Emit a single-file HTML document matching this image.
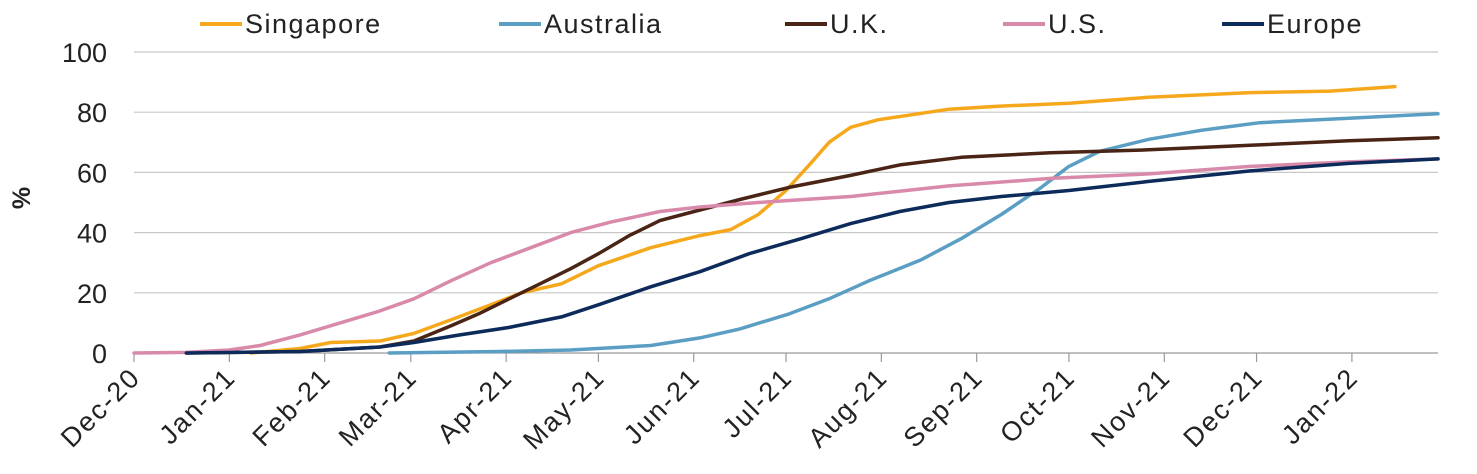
<!DOCTYPE html>
<html><head><meta charset="utf-8"><style>
body{margin:0;background:#fff;}
svg{display:block;font-family:"Liberation Sans",sans-serif;}
</style></head><body>
<svg id="chart" width="1477" height="474"></svg>
<script>
const tickLabels=["Dec-20","Jan-21","Feb-21","Mar-21","Apr-21","May-21","Jun-21","Jul-21","Aug-21","Sep-21","Oct-21","Nov-21","Dec-21","Jan-22"];
const tickDays=[0,31,62,90,121,151,182,212,243,274,304,335,365,396];
const yTicks=[0,20,40,60,80,100];
const seriesNames=["Singapore","Australia","U.K.","U.S.","Europe"];
const seriesColors=["#F5A81C","#5B9EC4","#4A2414","#D98AAB","#0D2B5A"];
const sgDays=[38,54,64,80,91,103,116,126,139,151,168,184,194,203,212,220,226,233,242,265,281,304,330,363,389,410];
const sgVals=[0,1.5,3.5,4,6.5,11,16,20,23,29,35,39,41,46,54,63,70,75,77.5,81,82,83,85,86.5,87,88.5];
const auDays=[83,119,142,168,184,197,213,226,239,256,269,282,295,304,314,330,347,366,395,424];
const auVals=[0,0.5,1,2.5,5,8,13,18,24,31,38,46,55,62,67,71,74,76.5,78,79.5];
const ukDays=[17,54,80,91,103,112,122,132,142,151,161,171,184,197,213,233,249,269,298,330,363,395,424];
const ukVals=[0,0.5,2,4,9,13,18,23,28,33,39,44,47.5,51,55,59,62.5,65,66.5,67.5,69,70.5,71.5];
const usDays=[0,17,31,41,54,67,80,91,103,116,129,142,155,171,184,203,233,265,298,330,363,395,424];
const usVals=[0,0.2,1,2.5,6,10,14,18,24,30,35,40,43.5,47,48.5,50,52,55.5,58,59.5,62,63.5,64.5];
const euDays=[17,54,80,91,106,122,139,151,168,184,200,217,233,249,265,282,304,330,363,395,424];
const euVals=[0,0.5,2,3.5,6,8.5,12,16,22,27,33,38,43,47,50,52,54,57,60.5,63,64.5];
const seriesDays=[sgDays,auDays,ukDays,usDays,euDays];
const seriesVals=[sgVals,auVals,ukVals,usVals,euVals];

const NS="http://www.w3.org/2000/svg";
const svg=document.getElementById("chart");
const X0=134,X1=1438,Y0=353,Y1=52,DMAX=424;
const xs=d=>X0+d*(X1-X0)/DMAX;
const ys=v=>Y0-v*(Y0-Y1)/100;
function mk(t,a,p){const e=document.createElementNS(NS,t);for(const k in a)e.setAttribute(k,a[k]);(p||svg).appendChild(e);return e;}

yTicks.forEach(v=>{
  const g=mk("line",{x1:X0,x2:X1,y1:ys(v),y2:ys(v),stroke:v===0?"#9a9a9a":"#c8c8c8","stroke-width":1.2});
  
  
  const t=mk("text",{x:107,y:ys(v)+10,"text-anchor":"end","font-size":27,fill:"#222"});
  t.textContent=v;
  
  
});
const yt=mk("text",{x:30,y:198,"text-anchor":"middle","font-size":25,"font-weight":"bold",fill:"#222",transform:"rotate(-90 30 198)"});
yt.textContent="%";



tickDays.forEach((d,i)=>{
  const x=xs(d);
  const l=mk("line",{x1:x,x2:x,y1:Y0,y2:Y0+9,stroke:"#9a9a9a","stroke-width":1.2});
  
  
  const t=mk("text",{x:x+8,y:Y0+26,"text-anchor":"end","font-size":27,"letter-spacing":2,fill:"#222",transform:`rotate(-45 ${x+8} ${Y0+26})`});
  t.textContent=tickLabels[i];
  
  
});

seriesNames.forEach((n,i)=>{
  const pts=seriesDays[i].map((d,j)=>xs(d).toFixed(1)+","+ys(seriesVals[i][j]).toFixed(1)).join(" ");
  const p=mk("polyline",{points:pts,fill:"none",stroke:seriesColors[i],"stroke-width":3.5,"stroke-linejoin":"round","stroke-linecap":"round"});
  
  
});

const legX=[200,499,785,1003,1222];
seriesNames.forEach((n,i)=>{
  const l=mk("line",{x1:legX[i],x2:legX[i]+42,y1:24,y2:24,stroke:seriesColors[i],"stroke-width":4});
  
  
  const t=mk("text",{x:legX[i]+45,y:33,"font-size":27,"letter-spacing":1.5,fill:"#222"});
  t.textContent=n;
  
  
});
</script>
</body></html>
